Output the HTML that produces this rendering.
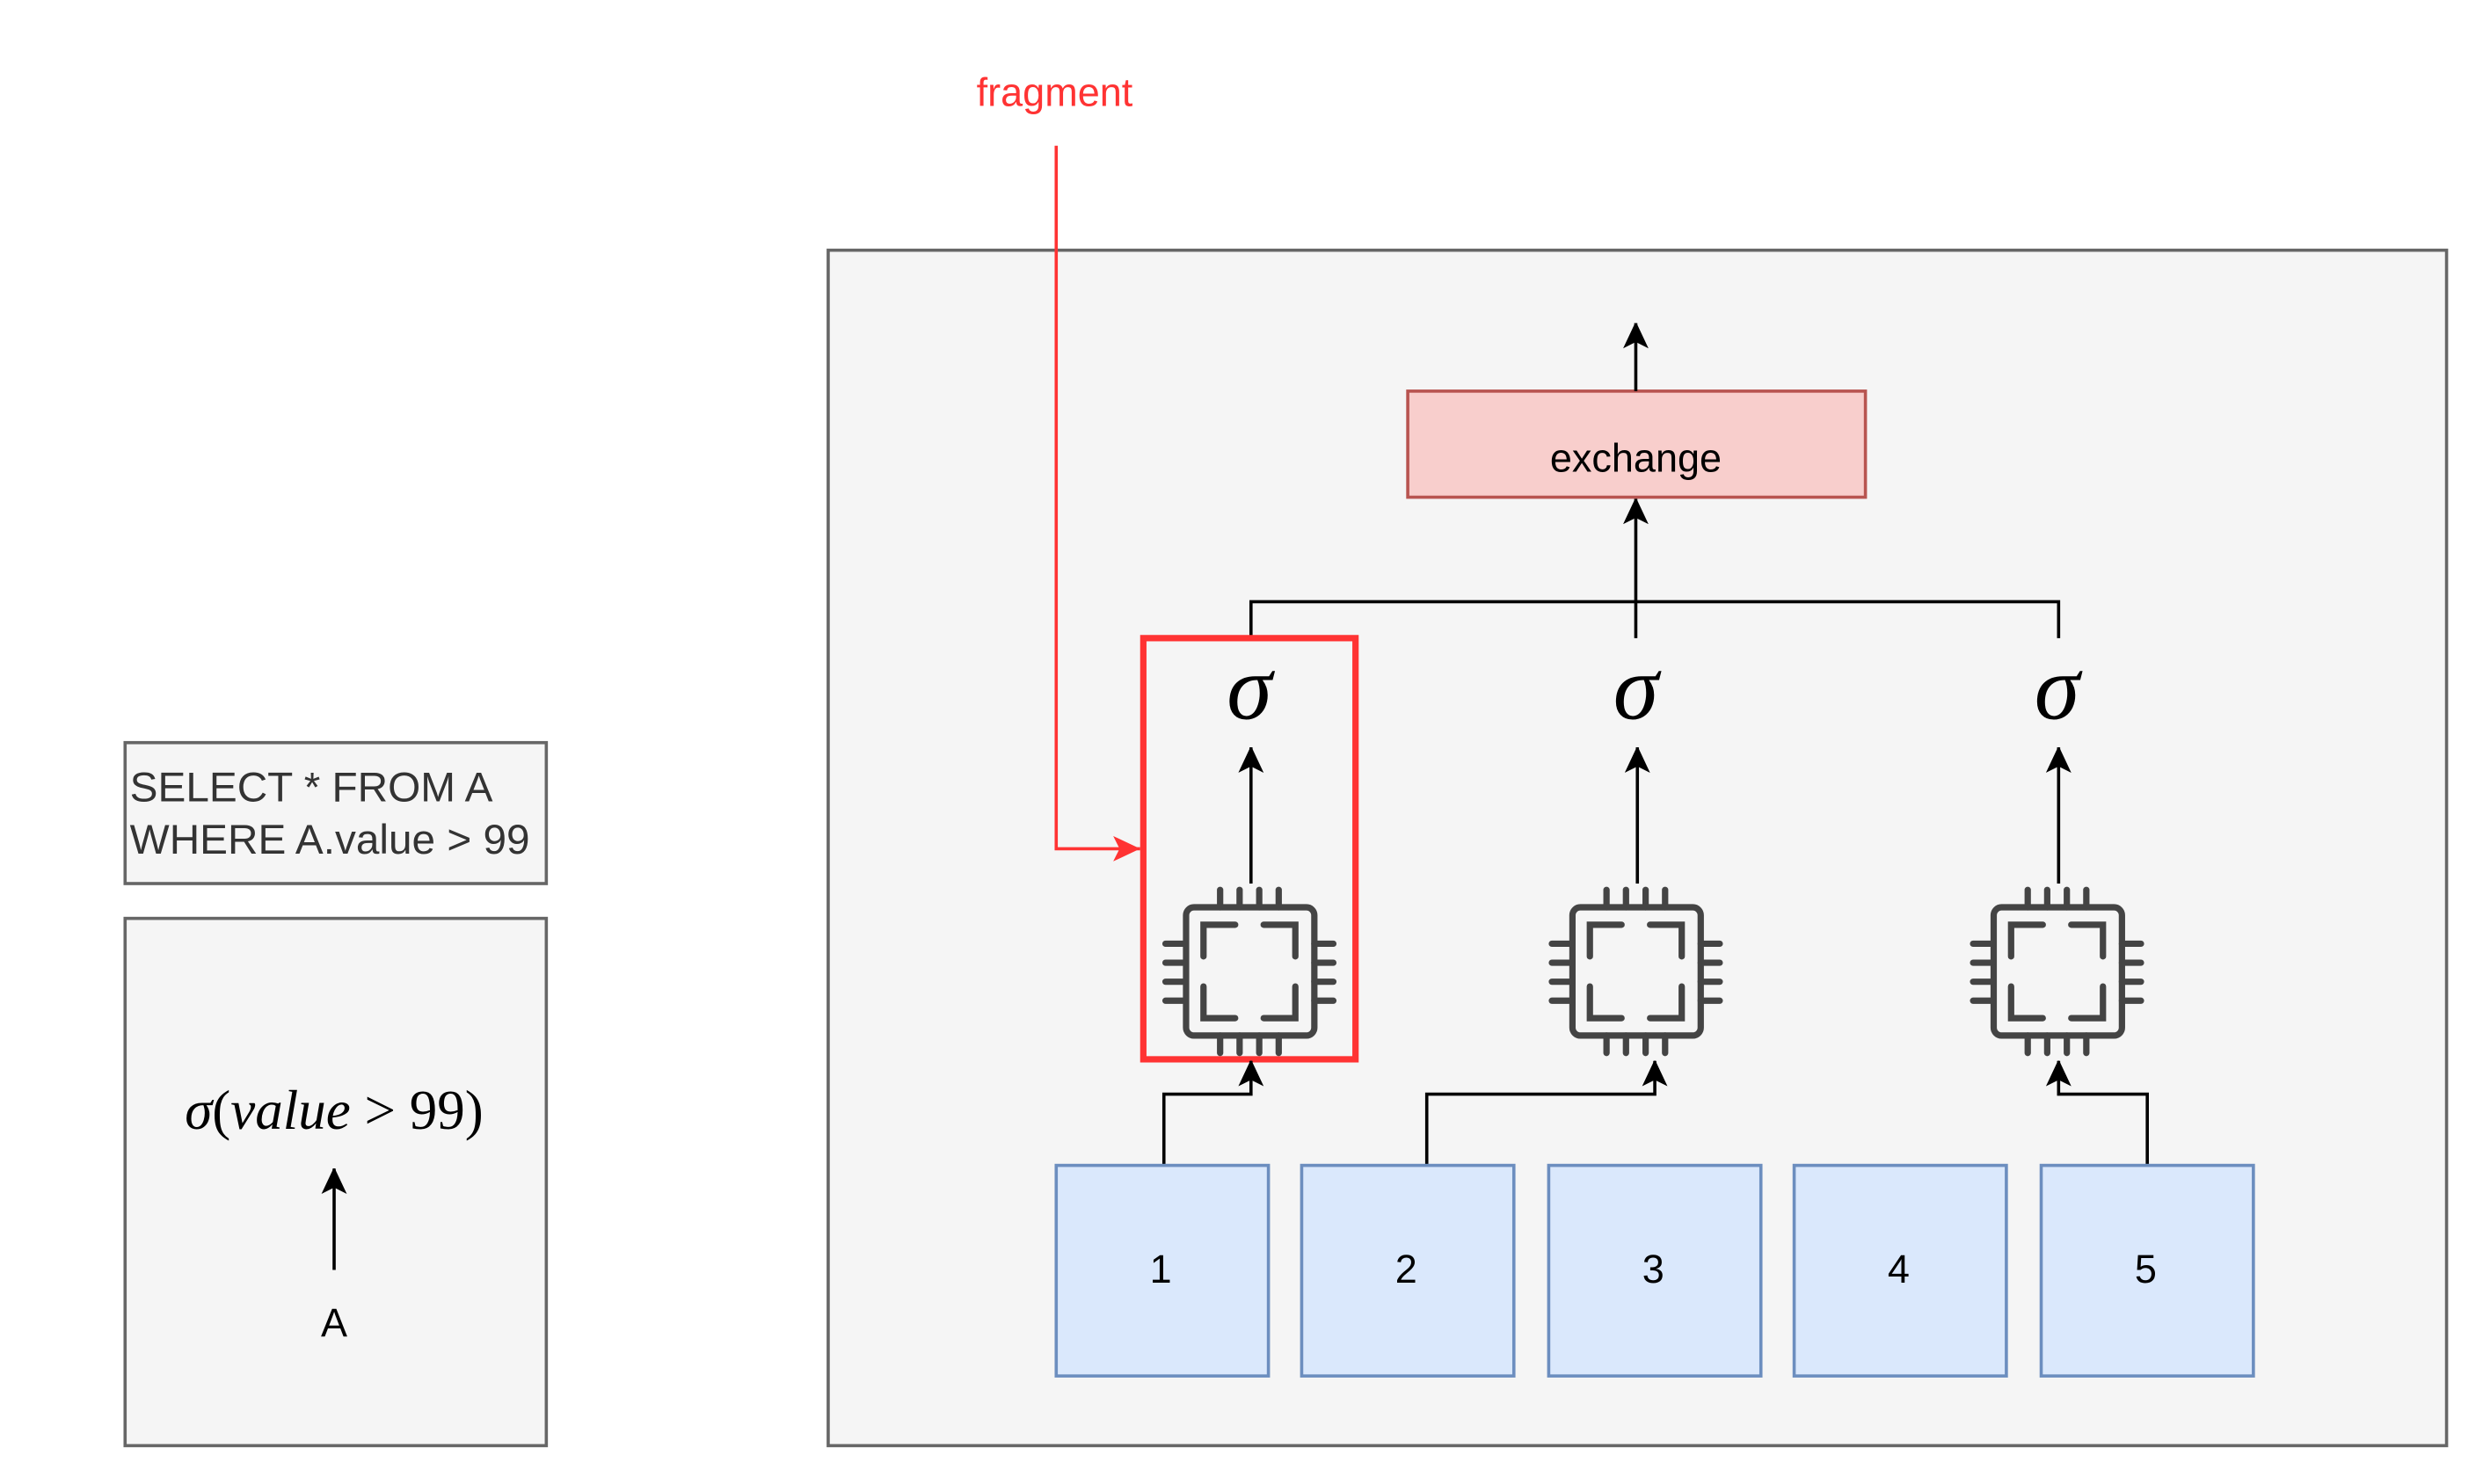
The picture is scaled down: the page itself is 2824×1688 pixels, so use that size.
<!DOCTYPE html>
<html><head><meta charset="utf-8"><style>html,body{margin:0;padding:0;background:#fff;}svg{display:block}</style></head>
<body>
<svg width="2824" height="1688" viewBox="0 0 1568 937.2" xmlns="http://www.w3.org/2000/svg" font-family="Liberation Sans, sans-serif">
<defs>
<marker id="ab" markerWidth="16" markerHeight="18" refX="16" refY="8" orient="auto" markerUnits="userSpaceOnUse"><path d="M0,0 L17,8 L0,16 L4,8 z" fill="#000"/></marker>
<marker id="ar" markerWidth="18" markerHeight="18" refX="17" refY="8" orient="auto" markerUnits="userSpaceOnUse"><path d="M0,0 L17,8 L0,16 L4,8 z" fill="#ff3333"/></marker>
<g id="chip" stroke="#444" stroke-width="4" fill="none" stroke-linecap="round">
<rect x="-40" y="-40" width="81" height="81" rx="5"/>
<path d="M-18.5,-51v11M-6.2,-51v11M6.2,-51v11M18.5,-51v11M-18.5,41v11M-6.2,41v11M6.2,41v11M18.5,41v11M-53,-17h12M-53,-5h12M-53,7h12M-53,19h12M41,-17h12M41,-5h12M41,7h12M41,19h12"/>
<path d="M-29,-9v-20h20M9,-29h20v20M-29,10v20h20M9,30h20v-20"/>
</g>
</defs>
<rect x="79" y="469" width="266" height="89" fill="#f5f5f5" stroke="#666" stroke-width="2"/>
<text x="82" y="506" font-size="26.5" fill="#333">SELECT * FROM A</text>
<text x="82" y="539" font-size="26.5" fill="#333">WHERE A.value &gt; 99</text>
<rect x="79" y="580" width="266" height="333" fill="#f5f5f5" stroke="#666" stroke-width="2"/>
<text x="211" y="713" font-size="35" text-anchor="middle" font-family="Liberation Serif, serif"><tspan font-style="italic">σ</tspan>(<tspan font-style="italic">value</tspan> &gt; 99)</text>
<line x1="211" y1="802" x2="211" y2="738" stroke="#000" stroke-width="2" marker-end="url(#ab)"/>
<text x="211" y="844" font-size="25" text-anchor="middle">A</text>
<text x="666" y="67" font-size="25" text-anchor="middle" fill="#ff3333">fragment</text>
<rect x="523" y="158" width="1022" height="755" fill="#f5f5f5" stroke="#666" stroke-width="2"/>
<path d="M667,92 V536 H720" fill="none" stroke="#ff3333" stroke-width="2" marker-end="url(#ar)"/>
<rect x="889" y="247" width="289" height="67" fill="#f8cecc" stroke="#b85450" stroke-width="2"/>
<text x="1033" y="298" font-size="25" text-anchor="middle">exchange</text>
<line x1="1033" y1="247" x2="1033" y2="204" stroke="#000" stroke-width="2" marker-end="url(#ab)"/>
<path d="M790,403 V380 H1300 V403" fill="none" stroke="#000" stroke-width="2"/>
<line x1="1033" y1="403" x2="1033" y2="315" stroke="#000" stroke-width="2" marker-end="url(#ab)"/>
<g font-family="Liberation Serif, serif" font-style="italic" font-size="58" text-anchor="middle">
<text x="789" y="454">σ</text><text x="1033" y="454">σ</text><text x="1299" y="454">σ</text>
</g>
<g stroke="#000" stroke-width="2">
<line x1="790" y1="558" x2="790" y2="472" marker-end="url(#ab)"/>
<line x1="1034" y1="558" x2="1034" y2="472" marker-end="url(#ab)"/>
<line x1="1300" y1="558" x2="1300" y2="472" marker-end="url(#ab)"/>
</g>
<use href="#chip" x="789" y="613"/>
<use href="#chip" x="1033" y="613"/>
<use href="#chip" x="1299" y="613"/>
<rect x="722" y="403" width="134" height="266" fill="none" stroke="#ff3333" stroke-width="4"/>
<g fill="none" stroke="#000" stroke-width="2">
<path d="M735,736 V691 H790 V670" marker-end="url(#ab)"/>
<path d="M901,736 V691 H1045 V670" marker-end="url(#ab)"/>
<path d="M1356,736 V691 H1300 V670" marker-end="url(#ab)"/>
</g>
<g fill="#dae8fc" stroke="#6c8ebf" stroke-width="2">
<rect x="667" y="736" width="134" height="133"/>
<rect x="822" y="736" width="134" height="133"/>
<rect x="978" y="736" width="134" height="133"/>
<rect x="1133" y="736" width="134" height="133"/>
<rect x="1289" y="736" width="134" height="133"/>
</g>
<g font-size="25" text-anchor="middle">
<text x="733" y="810">1</text><text x="888" y="810">2</text><text x="1044" y="810">3</text><text x="1199" y="810">4</text><text x="1355" y="810">5</text>
</g>
</svg>
</body></html>
